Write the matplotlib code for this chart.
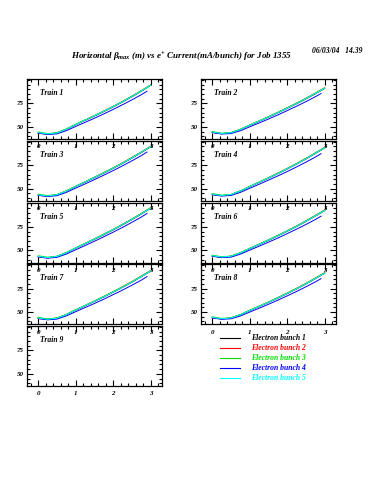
import matplotlib
matplotlib.use("Agg")
import matplotlib.pyplot as plt
from matplotlib.lines import Line2D
from matplotlib.ticker import MultipleLocator, FixedLocator

plt.rcParams["mathtext.fontset"] = "custom"
plt.rcParams["mathtext.rm"] = "Liberation Serif:bold"
plt.rcParams["mathtext.it"] = "Liberation Serif:italic:bold"

# ======================
# Data
# ======================

current = [0.0, 0.25, 0.5, 0.75, 1.0, 1.25, 1.5, 1.75, 2.0, 2.25, 2.5, 2.75, 3.0]
current_b4 = [0.0, 0.25, 0.5, 0.75, 1.0, 1.25, 1.5, 1.75, 2.0, 2.25, 2.5, 2.75, 2.9]

bunch_names = ["Electron bunch 1", "Electron bunch 2", "Electron bunch 3",
               "Electron bunch 4", "Electron bunch 5"]
bunch_colors = ["black", "#ff0000", "#00dd00", "#0000ff", "#00ffff"]

train_names = ["Train 1", "Train 2", "Train 3", "Train 4", "Train 5",
               "Train 6", "Train 7", "Train 8", "Train 9"]

x_ticks = [0, 1, 2, 3]
y_ticks = [50, 75]

train1 = [
    [43.5, 42.3, 43.4, 47.3, 52.3, 56.9, 61.5, 66.3, 71.3, 76.6, 82.1, 88.0, 94.3],
    [43.3, 42.1, 43.6, 47.6, 52.6, 57.3, 62.0, 66.9, 71.9, 77.2, 82.8, 88.6, 94.8],
    [44.5, 42.8, 43.8, 47.8, 52.8, 57.4, 62.0, 66.8, 71.8, 77.1, 82.6, 88.5, 94.6],
    [43.2, 41.8, 42.5, 45.9, 50.4, 54.8, 59.2, 63.8, 68.6, 73.6, 78.8, 84.3, 88.0],
    [43.8, 42.4, 43.5, 47.4, 52.4, 57.1, 61.8, 66.6, 71.6, 76.9, 82.4, 88.2, 94.4],
]
train2 = [
    [44.2, 42.8, 43.6, 47.0, 51.6, 55.9, 60.3, 64.9, 69.7, 74.6, 79.8, 85.3, 91.0],
    [44.0, 42.6, 43.8, 47.3, 51.9, 56.3, 60.8, 65.5, 70.3, 75.3, 80.5, 86.0, 91.6],
    [45.0, 43.2, 43.9, 47.4, 52.0, 56.4, 60.8, 65.4, 70.2, 75.2, 80.4, 85.9, 91.5],
    [43.8, 42.3, 42.8, 45.8, 50.0, 54.1, 58.3, 62.7, 67.3, 72.0, 76.9, 82.1, 85.5],
    [44.4, 42.9, 43.7, 47.1, 51.7, 56.1, 60.5, 65.1, 69.9, 74.9, 80.1, 85.6, 91.2],
]
train3 = [
    [43.0, 42.0, 43.3, 47.2, 52.2, 56.9, 61.6, 66.5, 71.6, 76.9, 82.5, 88.4, 94.6],
    [42.8, 41.8, 43.5, 47.5, 52.5, 57.3, 62.1, 67.1, 72.2, 77.6, 83.2, 89.1, 95.2],
    [44.0, 42.5, 43.7, 47.6, 52.6, 57.3, 62.1, 67.0, 72.1, 77.4, 83.0, 88.9, 95.0],
    [42.8, 41.5, 42.4, 45.9, 50.5, 55.0, 59.6, 64.3, 69.2, 74.3, 79.6, 85.2, 89.0],
    [43.3, 42.1, 43.4, 47.3, 52.3, 57.1, 61.9, 66.8, 71.9, 77.2, 82.8, 88.7, 94.8],
]
train4 = [
    [43.8, 42.5, 43.5, 47.2, 52.0, 56.5, 61.1, 65.9, 70.9, 76.1, 81.6, 87.4, 93.4],
    [43.6, 42.3, 43.7, 47.5, 52.3, 56.9, 61.6, 66.5, 71.5, 76.8, 82.3, 88.1, 94.1],
    [44.7, 43.0, 43.8, 47.6, 52.4, 57.0, 61.6, 66.4, 71.4, 76.6, 82.1, 87.9, 93.9],
    [43.4, 42.0, 42.6, 45.9, 50.3, 54.6, 59.0, 63.5, 68.2, 73.1, 78.2, 83.6, 87.2],
    [44.0, 42.6, 43.6, 47.3, 52.1, 56.7, 61.3, 66.1, 71.1, 76.3, 81.8, 87.6, 93.6],
]
train5 = [
    [43.2, 42.1, 43.4, 47.3, 52.3, 57.0, 61.8, 66.7, 71.8, 77.2, 82.8, 88.7, 94.9],
    [43.0, 41.9, 43.6, 47.6, 52.6, 57.4, 62.3, 67.3, 72.4, 77.9, 83.5, 89.4, 95.5],
    [44.2, 42.6, 43.8, 47.7, 52.7, 57.4, 62.3, 67.2, 72.3, 77.7, 83.3, 89.2, 95.3],
    [43.0, 41.6, 42.5, 46.0, 50.6, 55.1, 59.7, 64.5, 69.4, 74.5, 79.9, 85.5, 89.3],
    [43.5, 42.2, 43.5, 47.4, 52.4, 57.2, 62.0, 67.0, 72.1, 77.5, 83.1, 89.0, 95.1],
]
train6 = [
    [44.0, 42.7, 43.6, 47.1, 51.8, 56.2, 60.7, 65.4, 70.3, 75.4, 80.8, 86.5, 92.4],
    [43.8, 42.5, 43.8, 47.4, 52.1, 56.6, 61.2, 66.0, 70.9, 76.1, 81.5, 87.2, 93.1],
    [44.9, 43.1, 43.9, 47.5, 52.2, 56.6, 61.2, 65.9, 70.8, 75.9, 81.3, 87.0, 92.9],
    [43.6, 42.2, 42.7, 45.9, 50.2, 54.4, 58.7, 63.1, 67.8, 72.6, 77.6, 82.9, 86.4],
    [44.2, 42.8, 43.7, 47.2, 51.9, 56.4, 60.9, 65.6, 70.5, 75.6, 81.0, 86.7, 92.6],
]
train7 = [
    [43.4, 42.2, 43.4, 47.2, 52.1, 56.7, 61.4, 66.2, 71.2, 76.4, 81.9, 87.7, 93.7],
    [43.2, 42.0, 43.6, 47.5, 52.4, 57.1, 61.9, 66.8, 71.8, 77.1, 82.6, 88.4, 94.4],
    [44.4, 42.7, 43.8, 47.6, 52.5, 57.1, 61.9, 66.7, 71.7, 76.9, 82.4, 88.2, 94.2],
    [43.1, 41.7, 42.5, 45.9, 50.4, 54.8, 59.2, 63.8, 68.6, 73.5, 78.7, 84.1, 87.8],
    [43.6, 42.3, 43.5, 47.3, 52.2, 56.9, 61.6, 66.4, 71.4, 76.6, 82.1, 87.9, 93.9],
]
train8 = [
    [44.1, 42.8, 43.6, 47.0, 51.6, 55.9, 60.3, 64.9, 69.7, 74.7, 80.0, 85.6, 91.4],
    [43.9, 42.6, 43.8, 47.3, 51.9, 56.3, 60.8, 65.5, 70.3, 75.4, 80.7, 86.3, 92.1],
    [45.0, 43.2, 43.9, 47.4, 52.0, 56.4, 60.8, 65.4, 70.2, 75.2, 80.5, 86.1, 91.9],
    [43.7, 42.3, 42.8, 45.8, 50.0, 54.1, 58.3, 62.7, 67.3, 72.0, 77.0, 82.2, 85.6],
    [44.3, 42.9, 43.7, 47.1, 51.7, 56.1, 60.5, 65.1, 69.9, 74.9, 80.2, 85.8, 91.6],
]
train9 = []

trains = [train1, train2, train3, train4, train5, train6, train7, train8, train9]

# ======================
# Figure
# ======================

W, H = 375, 500
fig = plt.figure(figsize=(W / 100, H / 100), dpi=100)

font = dict(family="Liberation Serif", style="italic", weight="bold")

col_left = [27, 201]
panel_w = 135
panel_h = 60
row_top = [79, 140.75, 202.5, 264.25, 326]

for i, data in enumerate(trains):
    row, col = divmod(i, 2)
    ax = fig.add_axes([
        col_left[col] / W,
        1 - (row_top[row] + panel_h) / H,
        panel_w / W,
        panel_h / H,
    ])
    ax.set_facecolor("none")

    for j, ys in enumerate(data):
        xs = current_b4 if j == 3 else current
        ax.plot(xs, ys, color=bunch_colors[j], linewidth=0.7)

    ax.set_xlim(-0.3, 3.3)
    ax.set_ylim(37, 101)
    ax.xaxis.set_major_locator(FixedLocator(x_ticks))
    ax.xaxis.set_minor_locator(MultipleLocator(0.2))
    ax.yaxis.set_major_locator(FixedLocator(y_ticks))
    ax.yaxis.set_minor_locator(MultipleLocator(5))
    ax.tick_params(which="both", direction="in", top=True, right=True,
                   width=0.8, labelsize=5, pad=2.5)
    ax.tick_params(axis="x", which="major", pad=3.8)
    ax.tick_params(which="major", length=4)
    ax.tick_params(which="minor", length=2.5)
    for s in ax.spines.values():
        s.set_linewidth(0.9)
    for lab in ax.get_xticklabels() + ax.get_yticklabels():
        lab.set_fontfamily("Liberation Serif")
        lab.set_fontstyle("italic")
        lab.set_fontweight("bold")
        lab.set_zorder(10)

    ax.text(0.10, 0.73, train_names[i], transform=ax.transAxes,
            fontsize=5.5, **font)

# ======================
# Legend
# ======================

for k, name in enumerate(bunch_names):
    y = 1 - (338 + 10 * k) / H
    fig.add_artist(Line2D([220 / W, 240 / W], [y, y], color=bunch_colors[k],
                          linewidth=0.8, transform=fig.transFigure))
    fig.text(251 / W, y, name, color=bunch_colors[k], fontsize=5.5,
             va="center", ha="left", **font)

# ======================
# Titles
# ======================

fig.text(182 / W, 1 - 57 / H,
         r"Horizontal $\beta_{max}$ (m) vs e$^{+}$ Current(mA/bunch) for Job 1355",
         ha="center", va="center", fontsize=6.5, **font)
fig.text(363 / W, 1 - 51 / H, "06/03/04   14.39", ha="right", va="center",
         fontsize=5.5, **font)

fig.savefig("out.png", dpi=100)
